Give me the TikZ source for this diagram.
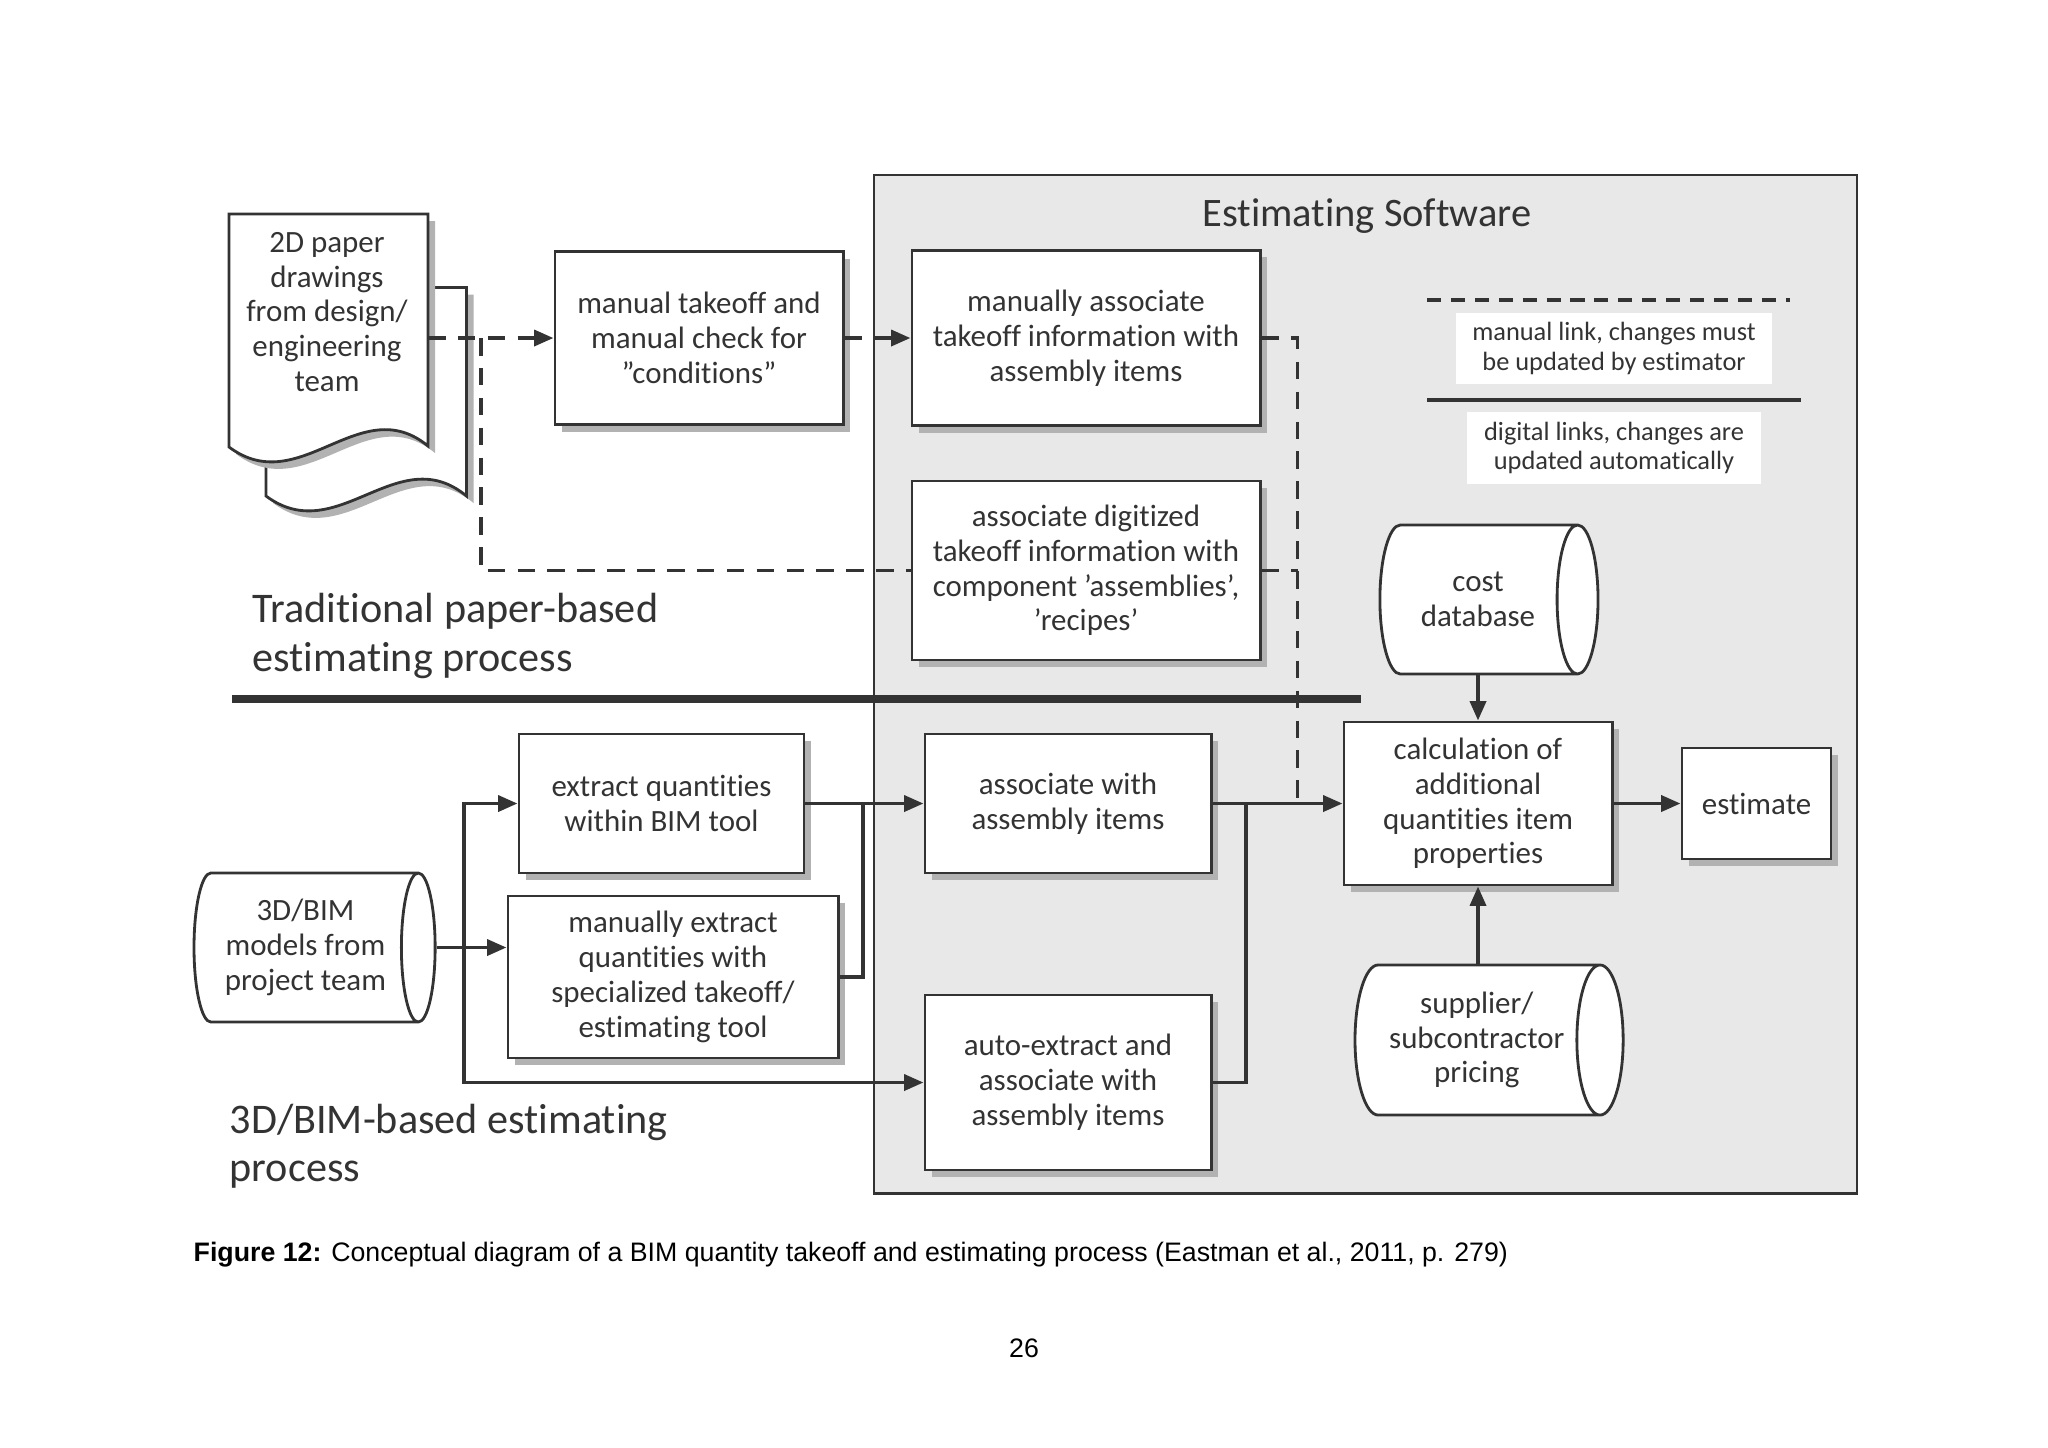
\documentclass[tikz,border=0pt]{standalone}
\usepackage{fontspec}
\setmainfont{Carlito}[Ligatures={NoCommon}]
\newfontfamily\capfont{Liberation Sans}
\usetikzlibrary{arrows.meta,shapes.geometric,shadows}

\definecolor{swgray}{HTML}{E8E8E8}
\definecolor{ink}{HTML}{333333}

\tikzset{
  procbox/.style={draw=ink, line width=0.8pt, fill=white, align=center, text=ink,
    font=\fontsize{8.8}{9.9}\selectfont, inner sep=0pt,
    drop shadow={shadow xshift=2pt, shadow yshift=-2pt, fill=black!30, opacity=1}},
  dbase/.style={cylinder, draw=ink, line width=0.8pt, fill=white, align=center, text=ink,
    font=\fontsize{8.8}{9.9}\selectfont, shape aspect=0.7, inner sep=0pt, anchor=west},
  legbox/.style={fill=white, align=center, text=ink, inner sep=0pt,
    font=\fontsize{7.5}{8.4}\selectfont},
  bigtext/.style={anchor=west, align=left, text=ink, inner sep=0pt,
    font=\fontsize{12}{13.8}\selectfont},
  tip/.style={-{Triangle[length=5.5pt,width=4.5pt]}},
  link/.style={draw=ink, line width=1.1pt},
  flow/.style={link, tip},
  manlink/.style={draw=ink, line width=1.1pt, dash pattern=on 5pt off 3.5pt},
}

\begin{document}
\begin{tikzpicture}[x=0.01cm, y=-0.01cm]

\useasboundingbox (0,0) rectangle (2048,1447);

\def\yup{338} % paper row
\def\ymid{803.5} % bim row
\def\xbus{464} % bim split
\def\xman{1297.5} % manual link drop

% software frame
\filldraw[fill=swgray, draw=ink, line width=0.8pt] (874,175) rectangle (1857,1193.5);
\node[text=ink, font=\fontsize{11.5}{13}\selectfont] (swtitle) at (1367,216) {Estimating Software};

% paper drawings
\fill[black!30, shift={(7,7)}] (266,287.5) -- (466.5,287.5) -- (466.5,496)
  .. controls (397.5,439) and (337.5,549) .. (266,496) -- cycle;
\filldraw[fill=white, draw=ink, line width=0.8pt] (266,287.5) -- (466.5,287.5) -- (466.5,496)
  .. controls (397.5,439) and (337.5,549) .. (266,496) -- cycle;
\fill[black!30, shift={(7,7)}] (229,214) -- (428,214) -- (428,446)
  .. controls (360,390) and (300,500) .. (229,447) -- cycle;
\filldraw[fill=white, draw=ink, line width=0.8pt] (229,214) -- (428,214) -- (428,446)
  .. controls (360,390) and (300,500) .. (229,447) -- cycle;
\node[align=center, text=ink, font=\fontsize{8.8}{9.9}\selectfont] (doc) at (327,312)
  {2D paper\\drawings\\from design/\\engineering\\team};

% upper row
\node[procbox, minimum width=2.88cm, minimum height=1.73cm] (takeoff) at (699,\yup)
  {manual takeoff and\\manual check for\\"conditions"};
\node[procbox, minimum width=3.48cm, minimum height=1.75cm] (manassoc) at (1086,\yup)
  {manually associate\\takeoff information with\\assembly items};
\node[procbox, minimum width=3.48cm, minimum height=1.79cm] (digassoc) at (1086,570.5)
  {associate digitized\\takeoff information with\\component 'assemblies',\\'recipes'};

% legend
\draw[ink, line width=1pt, dash pattern=on 4pt off 2.8pt] (1427,300) -- (1790,300);
\node[legbox, minimum width=3.15cm, minimum height=0.71cm] (legman) at (1614,348.5)
  {manual link, changes must\\be updated by estimator};
\draw[ink, line width=1.4pt] (1427,400) -- (1801,400);
\node[legbox, minimum width=2.94cm, minimum height=0.72cm] (legdig) at (1614,448)
  {digital links, changes are\\updated automatically};

\node[dbase, minimum width=1.49cm, minimum height=2.18cm, shape aspect=0.75] (costdb) at (1378.5,599.5)
  {cost\\database};

\node[bigtext] (tradlabel) at (252,636) {Traditional paper-based\\estimating process};

% divider
\draw[ink, line width=2.3pt] (232,699) -- (1361,699);

% bim row
\node[dbase, minimum width=1.49cm, minimum height=2.41cm, shape aspect=0.35] (bim) at (192.6,947.5)
  {3D/BIM\\models from\\project team};
\node[procbox, minimum width=2.85cm, minimum height=1.39cm] (extract) at (661.5,\ymid)
  {extract quantities\\within BIM tool};
\node[procbox, minimum width=3.30cm, minimum height=1.62cm] (manextract) at (673,977)
  {manually extract\\quantities with\\specialized takeoff/\\estimating tool};
\node[procbox, minimum width=2.86cm, minimum height=1.39cm] (assoc) at (1068,\ymid)
  {associate with\\assembly items};
\node[procbox, minimum width=2.86cm, minimum height=1.75cm] (autoextract) at (1068,1082.5)
  {auto-extract and\\associate with\\assembly items};
\node[procbox, minimum width=2.68cm, minimum height=1.63cm] (calc) at (1478,\ymid)
  {calculation of\\additional\\quantities item\\properties};
\node[procbox, minimum width=1.49cm, minimum height=1.11cm] (estimate) at (1756.5,\ymid) {estimate};
\node[dbase, minimum width=1.5cm, minimum height=2.68cm, shape aspect=0.48] (supplier) at (1353.6,1040)
  {supplier/\\subcontractor\\pricing};

\node[bigtext] (bimlabel) at (229,1146) {3D/BIM-based estimating\\process};

% manual links
\coordinate (docR) at (428,\yup);
\coordinate (split) at (481,\yup);
\coordinate (mandrop) at (\xman,\ymid);
\draw[manlink, tip] (docR) -- (takeoff.west);
\draw[manlink] (split) |- (digassoc.west);
\draw[manlink, tip] (takeoff.east) -- (manassoc.west);
\draw[manlink] (manassoc.east) -| (mandrop);
\draw[manlink] (digassoc.east) -- (digassoc.east -| mandrop);

% digital links
\coordinate (bimsplit) at (\xbus,947.5);
\coordinate (manjoin) at (862.6,\ymid);
\coordinate (autojoin) at (1246,\ymid);
\draw[flow] (bim.east) -- (bim.east -| manextract.west);
\draw[flow] (bimsplit) |- (extract.west);
\draw[flow] (bimsplit) |- (autoextract.west);
\draw[flow] (extract.east) -- (assoc.west);
\draw[link] (manextract.east) -| (manjoin);
\draw[flow] (assoc.east) -- (calc.west);
\draw[link] (autoextract.east) -| (autojoin);
\draw[flow] (costdb.south -| calc.north) -- (calc.north);
\draw[flow] (supplier.north -| calc.south) -- (calc.south);
\draw[flow] (calc.east) -- (estimate.west);

% caption
\node[anchor=west, inner sep=0pt, font=\capfont\fontsize{7.6}{9}\selectfont] (caption) at (193,1255)
  {\textbf{Figure 12:} Conceptual diagram of a BIM quantity takeoff and estimating process (Eastman et al., 2011, p. 279)};
\node[font=\capfont\fontsize{7.6}{9}\selectfont] (pagenum) at (1024,1348) {26};

\end{tikzpicture}
\end{document}
